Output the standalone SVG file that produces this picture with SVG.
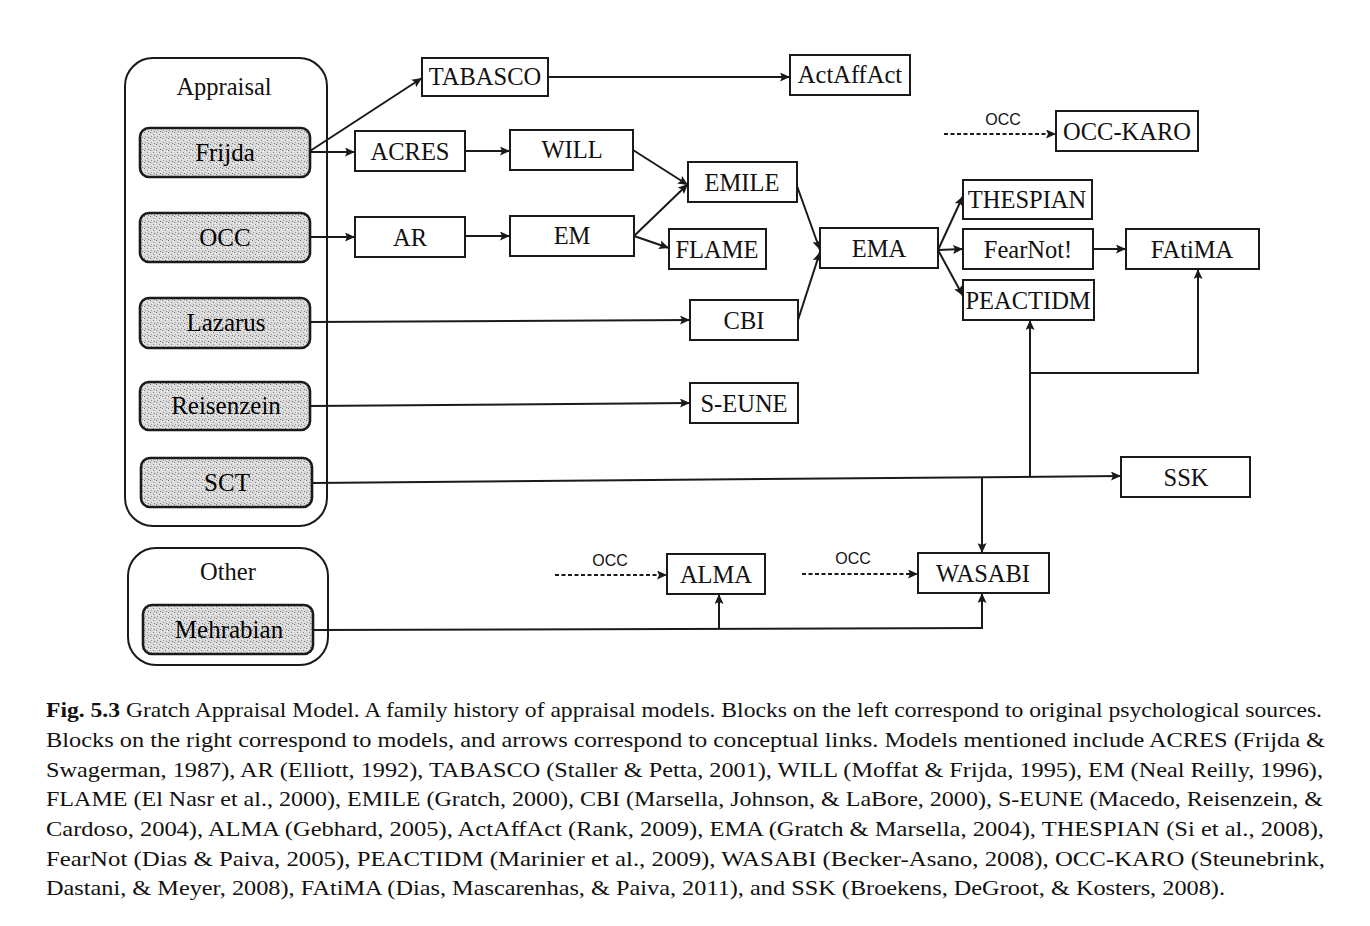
<svg xmlns="http://www.w3.org/2000/svg" width="1370" height="926" viewBox="0 0 1370 926">
<style>
.grp{fill:none;stroke:#1a1a1a;stroke-width:2}
.src{fill:url(#stip);stroke:#1a1a1a;stroke-width:2.6}
.box{fill:#fff;stroke:#1a1a1a;stroke-width:2}
.t{font-family:"Liberation Serif","Times New Roman",serif;font-size:24.5px;fill:#111;text-anchor:middle}
.ts{font-family:"Liberation Serif","Times New Roman",serif;font-size:25px;fill:#000;text-anchor:middle}
.lab{font-family:"Liberation Sans",Arial,sans-serif;font-size:16px;fill:#111;text-anchor:middle}
.c{fill:none;stroke:#1a1a1a;stroke-width:2}
.a{marker-end:url(#arr)}
.d{stroke-dasharray:4 2.5}
.cap{font-family:"Liberation Serif","Times New Roman",serif;font-size:21.5px;fill:#111}
</style>
<defs>
<pattern id="stip" width="6" height="6" patternUnits="userSpaceOnUse">
<rect width="6" height="6" fill="#dadada"/>
<rect x="0" y="0" width="1" height="1" fill="#777"/>
<rect x="3" y="2" width="1" height="1" fill="#888"/>
<rect x="1" y="4" width="1" height="1" fill="#999"/>
<rect x="4" y="5" width="1" height="1" fill="#777"/>
<rect x="5" y="1" width="1" height="1" fill="#fff"/>
<rect x="2" y="3" width="1" height="1" fill="#f4f4f4"/>
</pattern>
<marker id="arr" markerUnits="userSpaceOnUse" markerWidth="11" markerHeight="9" refX="10" refY="4.5" orient="auto">
<path d="M0,0 L10,4.5 L0,9 L2,4.5 z" fill="#1a1a1a"/>
</marker>
</defs>

<g id="appraisal-group">
<rect class="grp" x="125" y="58" width="202" height="468" rx="28"/>
<text class="t" x="224" y="95">Appraisal</text>
</g>
<g id="other-group">
<rect class="grp" x="128" y="548" width="200" height="117" rx="28"/>
<text class="t" x="228" y="580">Other</text>
</g>

<g id="Frijda"><rect class="src" x="140" y="128" width="170" height="49" rx="9"/><text class="ts" x="225" y="161">Frijda</text></g>
<g id="OCC"><rect class="src" x="140" y="213" width="170" height="49" rx="9"/><text class="ts" x="225" y="246">OCC</text></g>
<g id="Lazarus"><rect class="src" x="140" y="298" width="170" height="50" rx="9"/><text class="ts" x="226" y="331">Lazarus</text></g>
<g id="Reisenzein"><rect class="src" x="140" y="382" width="170" height="48" rx="9"/><text class="ts" x="226" y="414">Reisenzein</text></g>
<g id="SCT"><rect class="src" x="141" y="458" width="171" height="49" rx="9"/><text class="ts" x="227" y="491">SCT</text></g>
<g id="Mehrabian"><rect class="src" x="143" y="605" width="170" height="49" rx="9"/><text class="ts" x="229" y="638">Mehrabian</text></g>

<g id="TABASCO"><rect class="box" x="422" y="58" width="126" height="38"/><text class="t" x="485" y="85">TABASCO</text></g>
<g id="ActAffAct"><rect class="box" x="790" y="55" width="120" height="40"/><text class="t" x="850" y="83">ActAffAct</text></g>
<g id="ACRES"><rect class="box" x="355" y="131" width="110" height="40"/><text class="t" x="410" y="160">ACRES</text></g>
<g id="WILL"><rect class="box" x="510" y="130" width="123" height="40"/><text class="t" x="572" y="158">WILL</text></g>
<g id="AR"><rect class="box" x="355" y="217" width="110" height="40"/><text class="t" x="410" y="246">AR</text></g>
<g id="EM"><rect class="box" x="510" y="216" width="124" height="40"/><text class="t" x="572" y="244">EM</text></g>
<g id="EMILE"><rect class="box" x="688" y="162" width="109" height="40"/><text class="t" x="742" y="191">EMILE</text></g>
<g id="FLAME"><rect class="box" x="669" y="229" width="97" height="40"/><text class="t" x="717" y="258">FLAME</text></g>
<g id="CBI"><rect class="box" x="690" y="300" width="108" height="40"/><text class="t" x="744" y="329">CBI</text></g>
<g id="S-EUNE"><rect class="box" x="690" y="383" width="108" height="40"/><text class="t" x="744" y="412">S-EUNE</text></g>
<g id="EMA"><rect class="box" x="820" y="228" width="118" height="40"/><text class="t" x="879" y="257">EMA</text></g>
<g id="THESPIAN"><rect class="box" x="963" y="180" width="129" height="39"/><text class="t" x="1027" y="208">THESPIAN</text></g>
<g id="FearNot"><rect class="box" x="963" y="229" width="130" height="40"/><text class="t" x="1028" y="258">FearNot!</text></g>
<g id="PEACTIDM"><rect class="box" x="963" y="280" width="131" height="40"/><text class="t" x="1028" y="309">PEACTIDM</text></g>
<g id="FAtiMA"><rect class="box" x="1126" y="229" width="133" height="40"/><text class="t" x="1192" y="258">FAtiMA</text></g>
<g id="OCC-KARO"><rect class="box" x="1056" y="111" width="142" height="40"/><text class="t" x="1127" y="140">OCC-KARO</text></g>
<g id="SSK"><rect class="box" x="1121" y="457" width="129" height="40"/><text class="t" x="1186" y="486">SSK</text></g>
<g id="ALMA"><rect class="box" x="667" y="554" width="98" height="40"/><text class="t" x="716" y="583">ALMA</text></g>
<g id="WASABI"><rect class="box" x="918" y="553" width="131" height="40"/><text class="t" x="983" y="582">WASABI</text></g>

<g id="connectors">
<path class="c a" d="M310,151 L422,78"/>
<path class="c a" d="M310,152 L355,152"/>
<path class="c a" d="M548,77 L790,77"/>
<path class="c a" d="M465,151 L510,151"/>
<path class="c a" d="M633,150 L688,185"/>
<path class="c a" d="M310,237 L355,237"/>
<path class="c a" d="M465,236 L510,236"/>
<path class="c a" d="M634,236 L688,184"/>
<path class="c a" d="M634,236 L669,248"/>
<path class="c a" d="M310,322 L690,320"/>
<path class="c a" d="M797,186 L820,250"/>
<path class="c a" d="M798,320 L820,252"/>
<path class="c a" d="M938,250 L963,196"/>
<path class="c a" d="M938,250 L963,249"/>
<path class="c a" d="M938,250 L963,296"/>
<path class="c a" d="M1093,249 L1126,249"/>
<path class="c a" d="M310,406 L690,403"/>
<path class="c a" d="M312,483 L1121,476"/>
<path class="c a" d="M1030,477 L1030,320"/>
<path class="c a" d="M1030,373 L1198,373 L1198,269"/>
<path class="c a" d="M982,478 L982,553"/>
<path class="c" d="M313,630 L982,628"/>
<path class="c a" d="M719,629 L719,594"/>
<path class="c a" d="M982,629 L982,593"/>
<path class="c a d" d="M944,134 L1056,134"/>
<path class="c a d" d="M555,575 L667,575"/>
<path class="c a d" d="M802,574 L918,574"/>
<text class="lab" x="1003" y="125">OCC</text>
<text class="lab" x="610" y="566">OCC</text>
<text class="lab" x="853" y="564">OCC</text>
</g>

<g id="caption">
<text class="cap" x="46" y="717" textLength="1276" lengthAdjust="spacingAndGlyphs"><tspan font-weight="bold">Fig. 5.3</tspan> Gratch Appraisal Model. A family history of appraisal models. Blocks on the left correspond to original psychological sources.</text>
<text class="cap" x="46" y="747" textLength="1279" lengthAdjust="spacingAndGlyphs">Blocks on the right correspond to models, and arrows correspond to conceptual links. Models mentioned include ACRES (Frijda &amp;</text>
<text class="cap" x="46" y="777" textLength="1277" lengthAdjust="spacingAndGlyphs">Swagerman, 1987), AR (Elliott, 1992), TABASCO (Staller &amp; Petta, 2001), WILL (Moffat &amp; Frijda, 1995), EM (Neal Reilly, 1996),</text>
<text class="cap" x="46" y="806" textLength="1277" lengthAdjust="spacingAndGlyphs">FLAME (El Nasr et al., 2000), EMILE (Gratch, 2000), CBI (Marsella, Johnson, &amp; LaBore, 2000), S-EUNE (Macedo, Reisenzein, &amp;</text>
<text class="cap" x="46" y="836" textLength="1278" lengthAdjust="spacingAndGlyphs">Cardoso, 2004), ALMA (Gebhard, 2005), ActAffAct (Rank, 2009), EMA (Gratch &amp; Marsella, 2004), THESPIAN (Si et al., 2008),</text>
<text class="cap" x="46" y="866" textLength="1279" lengthAdjust="spacingAndGlyphs">FearNot (Dias &amp; Paiva, 2005), PEACTIDM (Marinier et al., 2009), WASABI (Becker-Asano, 2008), OCC-KARO (Steunebrink,</text>
<text class="cap" x="46" y="895" textLength="1179" lengthAdjust="spacingAndGlyphs">Dastani, &amp; Meyer, 2008), FAtiMA (Dias, Mascarenhas, &amp; Paiva, 2011), and SSK (Broekens, DeGroot, &amp; Kosters, 2008).</text>
</g>
</svg>
